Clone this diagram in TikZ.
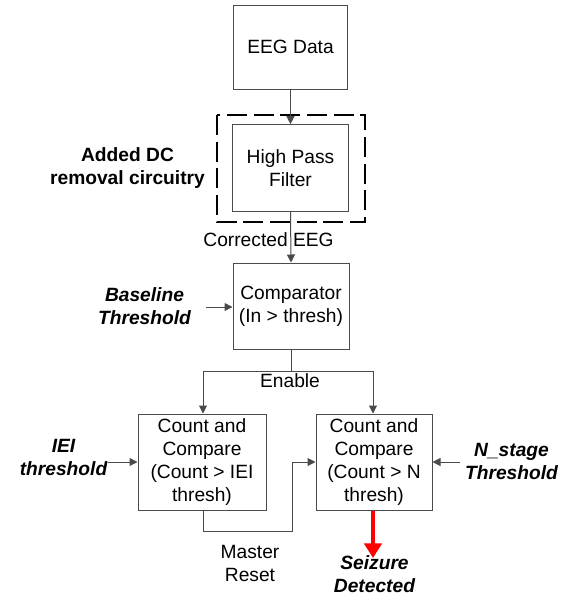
\documentclass[tikz,border=0pt]{standalone}
\usepackage{fontspec}
\setmainfont{Liberation Sans}
\usetikzlibrary{arrows.meta}
\definecolor{linegray}{HTML}{4A4A4A}
\begin{document}
\begin{tikzpicture}[x=0.75pt,y=-0.75pt,
  font=\fontsize{14.4}{17.25}\selectfont,
  blk/.style={draw=linegray,line width=0.75pt,align=center,inner sep=0pt,fill=white},
  lbl/.style={align=center,inner sep=0pt},
  bl/.style={lbl,font=\fontsize{14.4}{17.25}\selectfont\bfseries\itshape},
  conn/.style={draw=linegray,line width=0.75pt},
  arr/.style={conn,-{Triangle[length=6pt,width=6pt]}},
  redarr/.style={draw=red,line width=3pt,-{Triangle[length=11pt,width=13pt]}}]
\useasboundingbox (0,0) rectangle (574,597);
% dashed box
\draw[black,line width=1.5pt,dash pattern=on 15pt off 5pt] (217,115) rectangle (365,222);
% blocks
\node[blk,minimum width=86pt,minimum height=63pt] (eeg) at (290.5,47) {EEG Data};
\node[blk,minimum width=87pt,minimum height=65pt] (hpf) at (290.5,168) {High Pass\\Filter};
\node[blk,minimum width=87pt,minimum height=64.5pt] (cmp) at (291,306) {Comparator\\(In > thresh)};
\node[blk,minimum width=96pt,minimum height=72pt] (cc1) at (202,462) {Count and\\Compare\\(Count > IEI\\thresh)};
\node[blk,minimum width=87pt,minimum height=72pt] (cc2) at (374,462) {Count and\\Compare\\(Count > N\\thresh)};
% labels
\node[lbl,font=\fontsize{14.4}{17.25}\selectfont\bfseries] (dc) at (127.5,168) {Added DC\\removal circuitry};
\node[bl] (base) at (144.5,306) {Baseline\\Threshold};
\node[bl] (iei) at (63.5,457) {IEI\\threshold};
\node[bl] (nst) at (511.5,461) {N\_stage\\Threshold};
\node[lbl] (ce) at (268.5,240) {Corrected EEG};
\node[lbl] (en) at (290,381) {Enable};
\node[lbl] (mr) at (250,563) {Master\\Reset};
\node[bl] (sz) at (374.5,574) {Seizure\\Detected};
% coordinates
\coordinate (bsrc) at (206,307);
\coordinate (isrc) at (108,462);
\coordinate (nsrc) at (460,462);
\coordinate (split) at (291,371);
\coordinate (sl) at (203,371);
\coordinate (sr) at (373,371);
\coordinate (m1) at (203,531);
\coordinate (m2) at (292,531);
\coordinate (m3) at (292,462);
\coordinate (szend) at (373,558);
% connectors
\draw[arr] (eeg.south) -- (hpf.north);
\draw[arr] (hpf.south) -- (cmp.north);
\draw[arr] (bsrc) -- (bsrc -| cmp.west);
\draw[conn] (cmp.south) -- (split);
\draw[conn] (sl) -- (sr);
\draw[arr] (sl) -- (sl |- cc1.north);
\draw[arr] (sr) -- (sr |- cc2.north);
\draw[arr] (isrc) -- (isrc -| cc1.west);
\draw[arr] (nsrc) -- (nsrc -| cc2.east);
\draw[arr] (m1 |- cc1.south) -- (m1) -- (m2) -- (m3) -- (m3 -| cc2.west);
\draw[redarr] (szend |- cc2.south) -- (szend);
\end{tikzpicture}
\end{document}
